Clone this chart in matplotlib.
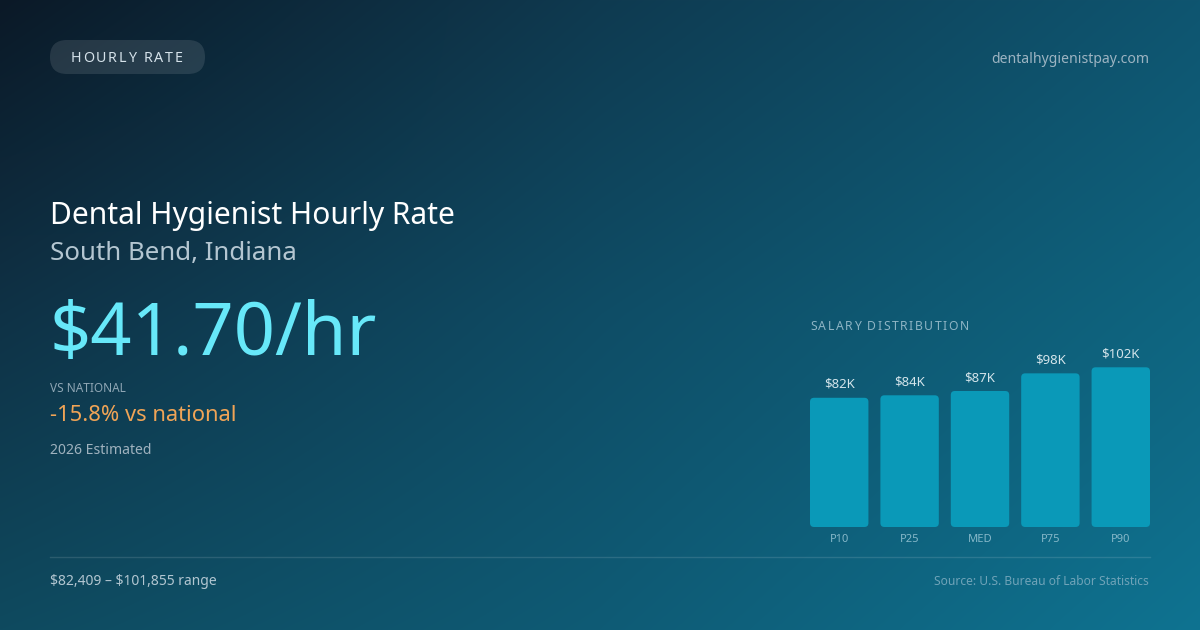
import numpy as np
import matplotlib
matplotlib.use("Agg")
import matplotlib.pyplot as plt
from matplotlib.patches import FancyBboxPatch

plt.rcParams['font.family'] = ['Noto Sans', 'DejaVu Sans']

# Data
percentiles = ["P10", "P25", "MED", "P75", "P90"]
salaries = [82409, 84000, 86736, 98000, 101855]
bar_labels = ["$82K", "$84K", "$87K", "$98K", "$102K"]
hourly_rate = "$41.70/hr"
vs_national = "-15.8% vs national"
range_text = "$82,409 – $101,855 range"

W, H = 1200, 630
fig = plt.figure(figsize=(W / 100, H / 100), dpi=100)

# Background gradient (piecewise bilinear over a 3x3 grid of colours)
grid = np.array([
    [[11, 25, 39], [15, 58, 80], [15, 85, 112]],
    [[15, 50, 70], [14, 77, 102], [14, 101, 128]],
    [[14, 74, 95], [14, 91, 117], [14, 115, 145]],
], dtype=float) / 255
xs = np.linspace(0, 1, W)
ys = np.linspace(0, 1, H)
rows = np.stack([np.stack([np.interp(xs, [0, .5, 1], grid[r, :, c]) for c in range(3)], -1)
                 for r in range(3)])
img = np.stack([np.stack([np.interp(ys, [0, .5, 1], rows[:, i, c]) for i in range(W)], 1)
                for c in range(3)], -1)

bg = fig.add_axes([0, 0, 1, 1])
bg.imshow(img, extent=[0, W, H, 0], aspect='auto', zorder=0)
bg.set_xlim(0, W)
bg.set_ylim(H, 0)
bg.axis('off')

renderer = fig.canvas.get_renderer()


def text_width(s, **kw):
    t = bg.text(0, 0, s, **kw)
    w = t.get_window_extent(renderer).width
    t.remove()
    return w


def spaced_text(x, y, s, spacing, ha='left', **kw):
    total = text_width(s, **kw) + spacing * (len(s) - 1)
    if ha == 'center':
        x = x - total / 2
    for i, ch in enumerate(s):
        off = text_width(s[:i], **kw) if i else 0
        bg.text(x + off + i * spacing, y, ch, va='baseline', ha='left', **kw)


# Pill label
pill = FancyBboxPatch((50, 40), 155, 34, boxstyle="round,pad=0,rounding_size=17",
                      fc=(1, 1, 1, 0.11), ec='none', zorder=2)
bg.add_patch(pill)
spaced_text(126.5, 62.5, "HOURLY RATE", 1.7, ha='center', fontsize=10.3, color='#d5e2ea', zorder=3)

bg.text(1149, 63, "dentalhygienistpay.com", ha='right', va='baseline', fontsize=10.1, color='#9db4c2')

# Headline texts
bg.text(50, 224, "Dental Hygienist Hourly Rate", ha='left', va='baseline', fontsize=21.6, color='white')
bg.text(50, 260, "South Bend, Indiana", ha='left', va='baseline', fontsize=18.6, color='#b4c6d1')
bg.text(49, 355, hourly_rate, ha='left', va='baseline', fontsize=52, color='#67e8f9')
bg.text(50, 392, "VS NATIONAL", ha='left', va='baseline', fontsize=8.5, color='#8ea6b4')
bg.text(50, 421, vs_national, ha='left', va='baseline', fontsize=15.8, color='#f0a456')
bg.text(50, 454, "2026 Estimated", ha='left', va='baseline', fontsize=10.1, color='#9fb2be')

# Footer
bg.plot([50, 1150], [556.5, 556.5], color=(1, 1, 1, 0.12), lw=1)
bg.text(50, 585, range_text, ha='left', va='baseline', fontsize=10, color='#b2c6d1',
        parse_math=False)
bg.text(1149, 585, "Source: U.S. Bureau of Labor Statistics", ha='right', va='baseline',
        fontsize=8.65, color='#6fa3b8')

spaced_text(810, 330, "SALARY DISTRIBUTION", 1.55, fontsize=8.8, color='#8db4c4')

# Bar chart
px_per_k = 1.568
ymax = 110
ax = fig.add_axes([810 / W, (H - 527) / H, 340 / W, ymax * px_per_k / H])
ax.patch.set_alpha(0)
vals = np.array(salaries) / 1000
bars = ax.bar(range(len(vals)), vals, width=0.83, color='#0a99b8')
ax.set_xlim(-0.415, len(vals) - 1 + 0.415)
ax.set_ylim(0, ymax)

# rounded corners
rx = 4 / (340 / 4.83)
ry = 4 / px_per_k
for b in bars:
    b.set_visible(False)
    rb = FancyBboxPatch((b.get_x(), b.get_y()), b.get_width(), b.get_height(),
                        boxstyle=f"round,pad=0,rounding_size={rx}",
                        mutation_aspect=ry / rx, fc='#0a99b8', ec='none')
    ax.add_patch(rb)

for i, (v, lab) in enumerate(zip(vals, bar_labels)):
    ax.annotate(lab, (i, v), xytext=(0, 5), textcoords='offset points',
                ha='center', va='bottom', fontsize=9.5, color='#d3e4ea')

ax.set_xticks(range(len(vals)), percentiles)
ax.tick_params(axis='x', length=0, pad=5, labelsize=8, labelcolor='#86b8c9')
ax.set_yticks([])
for s in ax.spines.values():
    s.set_visible(False)

fig.savefig("out.png", dpi=100)
